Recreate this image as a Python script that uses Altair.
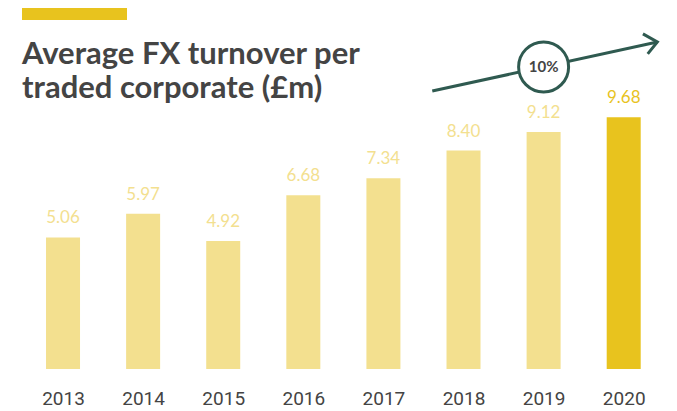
import altair as alt
import pandas as pd

# ---- data ----
years = [2013, 2014, 2015, 2016, 2017, 2018, 2019, 2020]
values = [5.06, 5.97, 4.92, 6.68, 7.34, 8.40, 9.12, 9.68]
labels = ["5.06", "5.97", "4.92", "6.68", "7.34", "8.40", "9.12", "9.68"]
title_lines = ["Average FX turnover per", "traded corporate (£m)"]
growth_label = "10%"

# growth arrow annotation, in data coordinates (year, £m)
arrow_x = [2017.61, 2020.42]
arrow_y = [10.69, 12.58]
head_x = [2020.24, 2020.42, 2020.30]
head_y = [12.89, 12.58, 12.12]
badge_x = [2019.0]
badge_y = [11.62]

LIGHT = "#F3E08F"
DARK = "#E8C31E"
GREEN = "#2F5A50"
GREY = "#444444"

bars_df = pd.DataFrame({"year": years, "value": values, "label": labels})
arrow_df = pd.DataFrame({"x": arrow_x, "y": arrow_y})
head_df = pd.DataFrame({"x": head_x, "y": head_y, "i": list(range(len(head_x)))})
badge_df = pd.DataFrame({"x": badge_x, "y": badge_y, "t": [growth_label]})
one = pd.DataFrame({"k": [0]})

xs = alt.Scale(domain=[2012.313, 2020.553], nice=False, zero=False, padding=0)
ys = alt.Scale(domain=[0, 13.885], nice=False, zero=True, padding=0)

color_cond = alt.condition(alt.datum.year == 2020, alt.value(DARK), alt.value(LIGHT))

base = alt.Chart(bars_df)

bars = base.mark_bar(size=34).encode(
    x=alt.X("year:Q", scale=xs,
            axis=alt.Axis(values=years, format="d", title=None, domain=False,
                          ticks=False, grid=False, labelFont="Roboto",
                          labelFontSize=19, labelColor=GREY, labelPadding=20,
                          labelBaseline="top")),
    y=alt.Y("value:Q", scale=ys, axis=None),
    color=color_cond,
)

bar_labels = base.mark_text(baseline="alphabetic", dy=-14, font="Lato",
                            fontSize=17, fontWeight=400).encode(
    x=alt.X("year:Q", scale=xs),
    y=alt.Y("value:Q", scale=ys),
    text="label:N",
    color=color_cond,
)

arrow = alt.Chart(arrow_df).mark_line(color=GREEN, strokeWidth=3).encode(
    x=alt.X("x:Q", scale=xs), y=alt.Y("y:Q", scale=ys)
)
head = alt.Chart(head_df).mark_line(color=GREEN, strokeWidth=3).encode(
    x=alt.X("x:Q", scale=xs), y=alt.Y("y:Q", scale=ys), order="i:Q"
)
badge = alt.Chart(badge_df).mark_point(shape="circle", size=2500, filled=False,
                                       fill="white", fillOpacity=1,
                                       stroke=GREEN, strokeWidth=3, opacity=1).encode(
    x=alt.X("x:Q", scale=xs), y=alt.Y("y:Q", scale=ys)
)
badge_text = alt.Chart(badge_df).mark_text(font="Lato", fontSize=15, fontWeight="bold",
                                           color=GREY, baseline="middle").encode(
    x=alt.X("x:Q", scale=xs), y=alt.Y("y:Q", scale=ys), text="t:N"
)

accent = alt.Chart(one).mark_rect(color=DARK).encode(
    x=alt.value(14), x2=alt.value(119), y=alt.value(0), y2=alt.value(12)
)
title1 = alt.Chart(one).mark_text(text=title_lines[0], align="left", baseline="alphabetic",
                                  font="Lato", fontSize=31, fontWeight="bold",
                                  color=GREY).encode(x=alt.value(14), y=alt.value(56))
title2 = alt.Chart(one).mark_text(text=title_lines[1], align="left", baseline="alphabetic",
                                  font="Lato", fontSize=31, fontWeight="bold",
                                  color=GREY).encode(x=alt.value(14), y=alt.value(90))

chart = alt.layer(
    bars, bar_labels, arrow, head, badge, badge_text, accent, title1, title2
).properties(
    width=660, height=361,
    autosize=alt.AutoSizeParams(type="none"),
    padding={"left": 0, "top": 0, "right": 0, "bottom": 42},
).configure_view(stroke=None)

chart.save("out.html", embed_options={"renderer": "svg", "actions": False})
